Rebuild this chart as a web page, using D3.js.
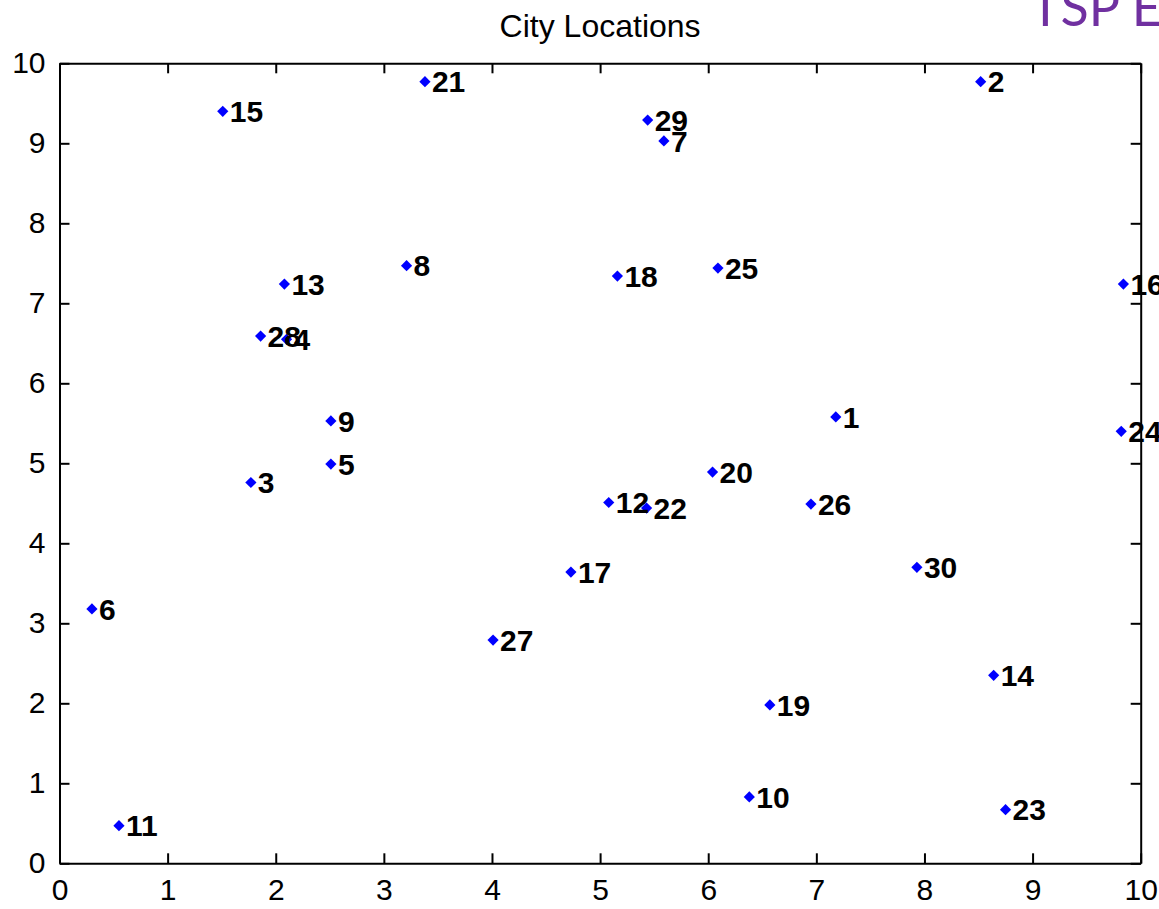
<!DOCTYPE html>
<html>
<head>
<meta charset="utf-8">
<script src="https://d3js.org/d3.v7.min.js"></script>
<style>
  body { margin: 0; background: #ffffff; }
  svg { display: block; }
</style>
</head>
<body>
<div id="cityScatter"></div>
<script>
// city numbers and their locations
var city_ids = [1, 2, 3, 4, 5, 6, 7, 8, 9, 10,
                11, 12, 13, 14, 15, 16, 17, 18, 19, 20,
                21, 22, 23, 24, 25, 26, 27, 28, 29, 30];
var city_x = [7.18, 8.52, 1.77, 2.10, 2.51, 0.30, 5.59, 3.21, 2.51, 6.38,
              0.55, 5.08, 2.08, 8.64, 1.51, 9.84, 4.73, 5.16, 6.57, 6.04,
              3.38, 5.43, 8.75, 9.82, 6.09, 6.95, 4.01, 1.86, 5.44, 7.93];
var city_y = [5.58, 9.77, 4.76, 6.55, 4.99, 3.18, 9.03, 7.47, 5.53, 0.83,
              0.47, 4.51, 7.24, 2.35, 9.40, 7.24, 3.64, 7.34, 1.98, 4.89,
              9.77, 4.44, 0.67, 5.40, 7.44, 4.49, 2.79, 6.59, 9.29, 3.70];
var x_ticks = [0, 1, 2, 3, 4, 5, 6, 7, 8, 9, 10];
var y_ticks = [0, 1, 2, 3, 4, 5, 6, 7, 8, 9, 10];
var plot_title = "City Locations";
var slide_title = "TSP Example";

var cities = city_ids.map(function (id, i) {
    return {id: id, x: city_x[i], y: city_y[i]};
});

// set the dimensions and margins of the graph
var setWidth = 1159;
var setHeight = 909;
var margin = {top: 63.3, right: 18.3, bottom: 45.7, left: 59.5};
var width = setWidth - margin.left - margin.right;
var height = setHeight - margin.top - margin.bottom;

var root = d3.select("#cityScatter")
    .append("svg")
    .attr("width", setWidth)
    .attr("height", setHeight);

// slide heading, cut off by the picture edge
root.append("text")
    .attr("x", 1030)
    .attr("y", 26)
    .style("font-family", "Lato, 'Open Sans', sans-serif")
    .style("font-size", "52px")
    .style("fill", "#7030A0")
    .text(slide_title);

var svg = root.append("g")
    .attr("transform", "translate(" + margin.left + "," + margin.top + ")");

// scales
var x = d3.scaleLinear().domain([0, 10]).range([0, width]);
var y = d3.scaleLinear().domain([0, 10]).range([height, 0]);

var tickFont = "'Liberation Sans', Arial, sans-serif";

// bottom axis with labels, ticks pointing inside
svg.append("g")
    .attr("class", "xaxis")
    .attr("transform", "translate(0," + height + ")")
    .call(d3.axisBottom(x).tickValues(x_ticks).tickSize(-10).tickSizeOuter(0).tickPadding(15));

// left axis with labels
svg.append("g")
    .attr("class", "yaxis")
    .call(d3.axisLeft(y).tickValues(y_ticks).tickSize(-10).tickSizeOuter(0).tickPadding(14));

// top and right axes, ticks only
svg.append("g")
    .attr("class", "xaxis2")
    .call(d3.axisTop(x).tickValues(x_ticks).tickSize(-10).tickSizeOuter(0).tickFormat(""));

svg.append("g")
    .attr("class", "yaxis2")
    .attr("transform", "translate(" + width + ",0)")
    .call(d3.axisRight(y).tickValues(y_ticks).tickSize(-10).tickSizeOuter(0).tickFormat(""));

svg.selectAll(".domain, .tick line")
    .attr("stroke", "#000")
    .attr("stroke-width", 2);

svg.selectAll(".tick text")
    .style("font-family", tickFont)
    .style("font-size", "30px")
    .attr("fill", "#000");

// title
svg.append("text")
    .attr("x", width / 2)
    .attr("y", 37 - margin.top)
    .attr("text-anchor", "middle")
    .style("font-family", tickFont)
    .style("font-size", "32px")
    .attr("fill", "#000")
    .text(plot_title);

// city markers
var marker = d3.symbol().type(d3.symbolDiamond2).size(80);

svg.selectAll("path.city")
    .data(cities)
    .join("path")
        .attr("class", "city")
        .attr("d", marker)
        .attr("transform", function (d) { return "translate(" + x(d.x) + "," + y(d.y) + ")"; })
        .style("fill", "#0000ff");

// city numbers next to the markers
svg.selectAll("text.city_label")
    .data(cities)
    .join("text")
        .attr("class", "city_label")
        .attr("x", function (d) { return x(d.x) + 7; })
        .attr("y", function (d) { return y(d.y); })
        .attr("dy", "0.36em")
        .style("font-family", tickFont)
        .style("font-size", "30px")
        .style("font-weight", "bold")
        .attr("fill", "#000")
        .text(function (d) { return d.id; });
</script>
</body>
</html>
